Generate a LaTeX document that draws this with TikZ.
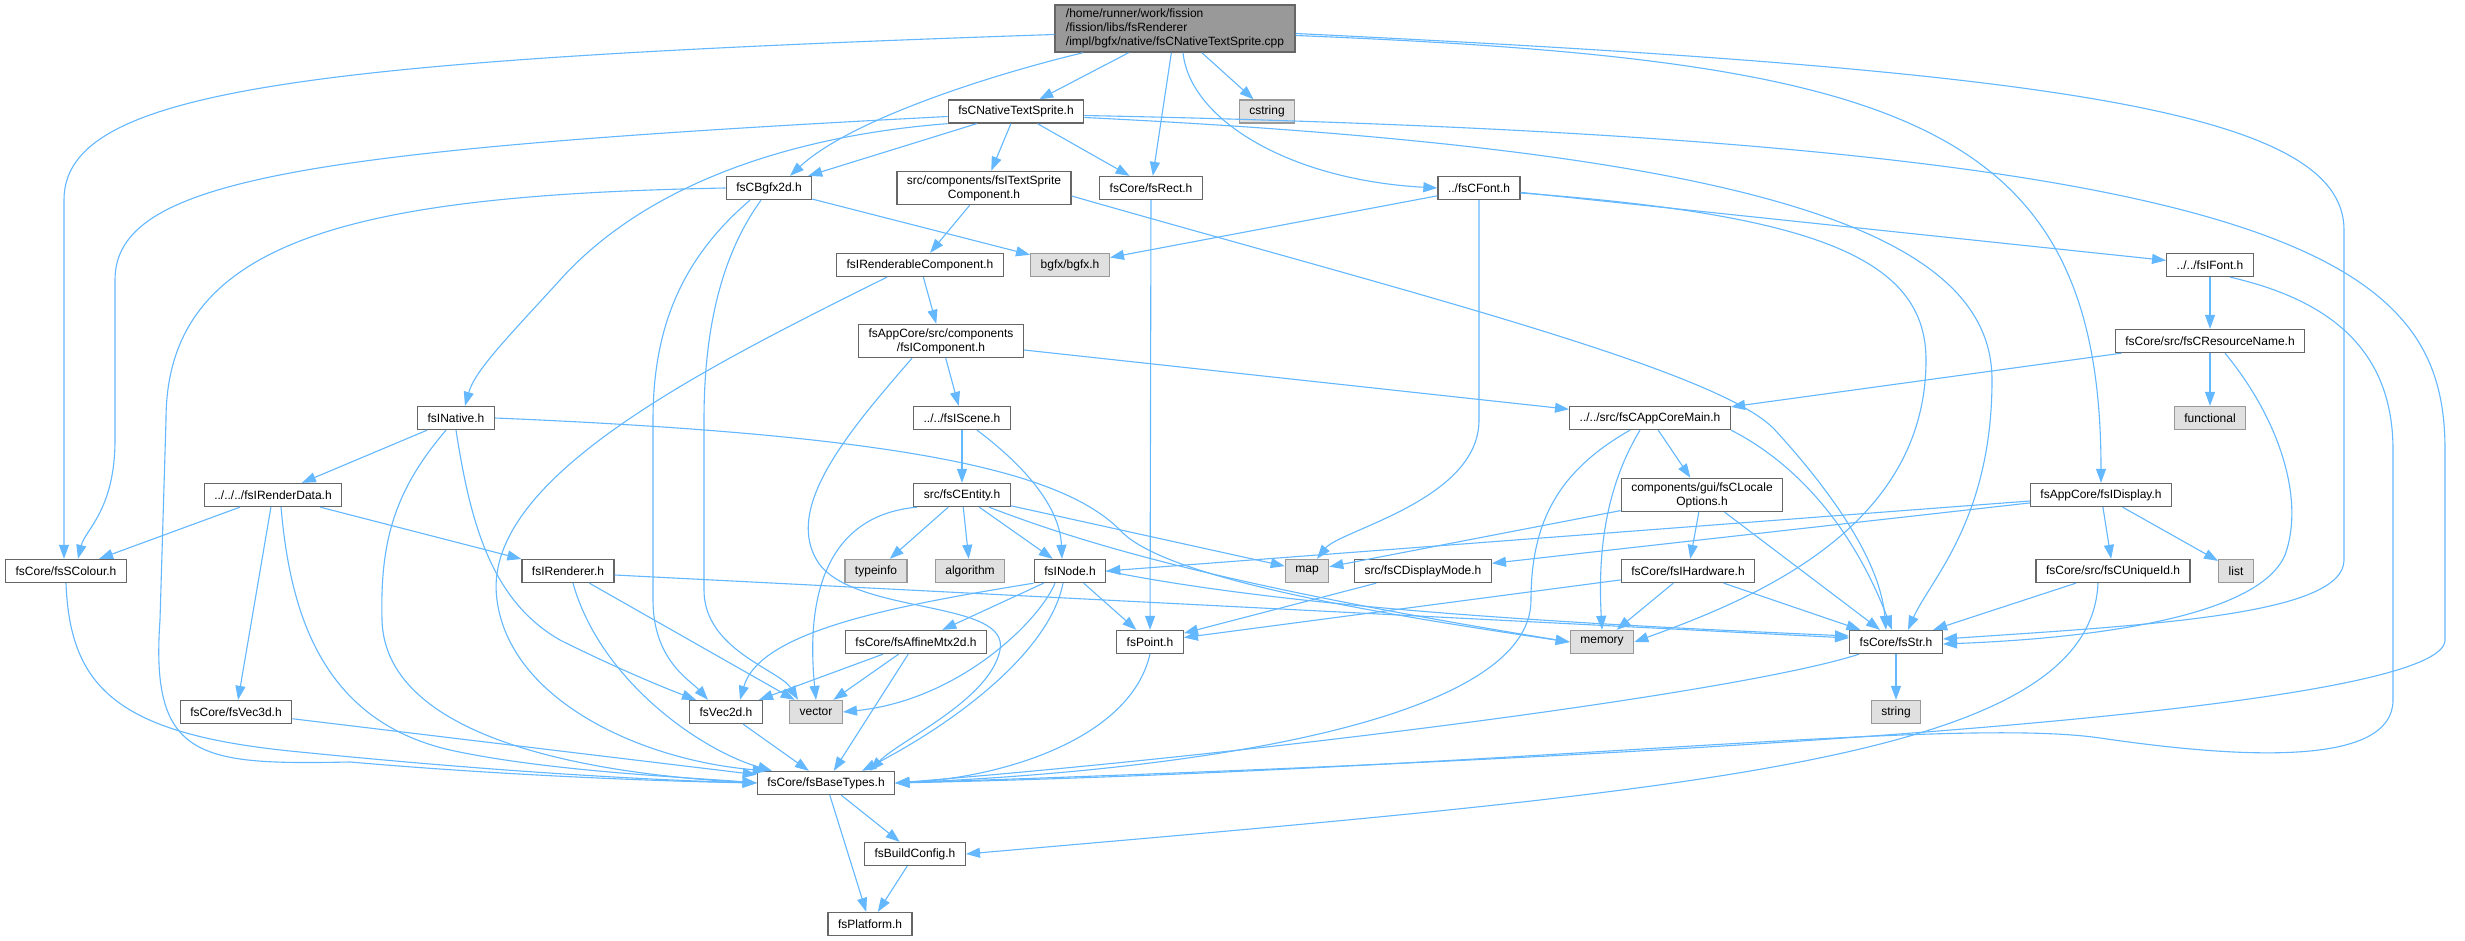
\documentclass[tikz,border=0pt]{standalone}
\usepackage{fontspec}
\setmainfont{Liberation Sans}
\usetikzlibrary{arrows.meta}
\definecolor{edgeblue}{HTML}{63B8FF}
\definecolor{nodeborder}{HTML}{666666}
\definecolor{sysfill}{HTML}{E0E0E0}
\definecolor{sysborder}{HTML}{999999}
\definecolor{rootfill}{HTML}{999999}
\begin{document}
\begin{tikzpicture}[x=1pt,y=-1pt,
  nd/.style={draw=nodeborder, fill=white, line width=1.3pt, font=\fontsize{12}{14}\selectfont, inner xsep=10pt, inner ysep=4pt, minimum height=23pt, align=center},
  sysnd/.style={nd, draw=sysborder, fill=sysfill},
  rootnd/.style={nd, fill=rootfill, align=left, inner xsep=11pt},
  dep/.style={draw=edgeblue, line width=1.1pt, -{Triangle[length=14pt,width=10pt]}}]
\useasboundingbox (0,0) rectangle (2465,941);
\fill[white] (0,0) rectangle (2465,941);

% nodes
\node[rootnd] (root) at (1175,28.5) {/home/runner/work/fission\\/fission/libs/fsRenderer\\/impl/bgfx/native/fsCNativeTextSprite.cpp};
\node[nd] (cnts) at (1016,111.5) {fsCNativeTextSprite.h};
\node[sysnd] (cstr) at (1267,111.5) {cstring};
\node[nd] (bgfx2d) at (769,188) {fsCBgfx2d.h};
\node[nd] (itsc) at (984,188) {src/components/fsITextSprite\\Component.h};
\node[nd] (rect) at (1151,188) {fsCore/fsRect.h};
\node[nd] (cfont) at (1479,188) {../fsCFont.h};
\node[nd] (irc) at (920,265) {fsIRenderableComponent.h};
\node[sysnd] (bgfxh) at (1070,265) {bgfx/bgfx.h};
\node[nd] (ifont) at (2210,265) {../../fsIFont.h};
\node[nd] (icomp) at (941,341) {fsAppCore/src/components\\/fsIComponent.h};
\node[nd] (resname) at (2210,341) {fsCore/src/fsCResourceName.h};
\node[nd] (inative) at (456,418) {fsINative.h};
\node[nd] (iscene) at (962,418) {../../fsIScene.h};
\node[nd] (appmain) at (1650,418) {../../src/fsCAppCoreMain.h};
\node[sysnd] (functional) at (2210,418) {functional};
\node[nd] (irdata) at (273,495) {../../../fsIRenderData.h};
\node[nd] (entity) at (962,495) {src/fsCEntity.h};
\node[nd] (locale) at (1702,495) {components/gui/fsCLocale\\Options.h};
\node[nd] (idisplay) at (2101,495) {fsAppCore/fsIDisplay.h};
\node[nd] (scolour) at (66,571) {fsCore/fsSColour.h};
\node[nd] (irenderer) at (568,571) {fsIRenderer.h};
\node[sysnd] (typeinfo) at (876,571) {typeinfo};
\node[sysnd] (algorithm) at (970,571) {algorithm};
\node[nd] (inode) at (1070,571) {fsINode.h};
\node[sysnd] (map) at (1307,571) {map};
\node[nd] (dispmode) at (1423,571) {src/fsCDisplayMode.h};
\node[nd] (ihw) at (1688,571) {fsCore/fsIHardware.h};
\node[nd] (uid) at (2113,571) {fsCore/src/fsCUniqueId.h};
\node[sysnd] (list) at (2236,571) {list};
\node[nd] (affine) at (916,642) {fsCore/fsAffineMtx2d.h};
\node[nd] (point) at (1150,642) {fsPoint.h};
\node[sysnd] (memory) at (1602,642) {memory};
\node[nd] (str) at (1896,642) {fsCore/fsStr.h};
\node[nd] (vec3d) at (236,712) {fsCore/fsVec3d.h};
\node[nd] (vec2d) at (726,712) {fsVec2d.h};
\node[sysnd] (vector) at (816,712) {vector};
\node[sysnd] (string) at (1896,712) {string};
\node[nd] (base) at (826,783) {fsCore/fsBaseTypes.h};
\node[nd] (buildcfg) at (915,854) {fsBuildConfig.h};
\node[nd] (platform) at (870,924) {fsPlatform.h};

% root
\draw[dep] (root) -- (cnts);
\draw[dep] (root) -- (cstr);
\draw[dep] (root) -- (rect);
\draw[dep] ([xshift=8pt]root.south) .. controls (1190,120) and (1290,180) .. (cfont.west);
\draw[dep] ([xshift=-92pt]root.south) .. controls (990,75) and (850,120) .. ([xshift=21pt]bgfx2d.north);
\draw[dep] ([yshift=-6pt]root.west) .. controls (300,60) and (64,90) .. (64,200) -- ([xshift=-2pt]scolour.north);
\draw[dep] ([yshift=-5pt]root.east) .. controls (2050,70) and (2344,110) .. (2344,230) -- (2344,560) .. controls (2344,615) and (2150,625) .. ([yshift=3pt]str.east);
\draw[dep] ([yshift=-7pt]root.east) .. controls (1900,60) and (2101,120) .. (idisplay.north);

% fsCNativeTextSprite.h
\draw[dep] (cnts) -- (bgfx2d);
\draw[dep] (cnts) -- (itsc);
\draw[dep] (cnts) -- (rect);
\draw[dep] ([yshift=-5pt]cnts.west) .. controls (300,150) and (115,180) .. (115,280) -- (115,440) .. controls (115,510) and (85,530) .. ([xshift=12pt]scolour.north);
\draw[dep] (cnts.south west) .. controls (800,135) and (650,180) .. (560,280) .. controls (510,335) and (475,370) .. ([xshift=9pt]inative.north);
\draw[dep] ([yshift=-6pt]cnts.east) .. controls (1750,150) and (1992,230) .. (1992,380) .. controls (1992,520) and (1930,580) .. ([xshift=12pt]str.north);
\draw[dep] ([yshift=-4pt]cnts.east) .. controls (2300,140) and (2445,260) .. (2445,450) -- (2445,640) .. controls (2445,700) and (1900,750) .. (base.east);

% fsCBgfx2d.h
\draw[dep] (bgfx2d) -- (bgfxh);
\draw[dep] ([xshift=-19pt]bgfx2d.south) .. controls (680,260) and (653,330) .. (653,420) -- (653,600) .. controls (653,660) and (690,680) .. ([xshift=-18pt]vec2d.north);
\draw[dep] ([xshift=-8pt]bgfx2d.south) .. controls (725,250) and (704,320) .. (704,420) -- (704,590) .. controls (704,650) and (780,670) .. ([xshift=-18pt]vector.north);
\draw[dep] (bgfx2d.west) .. controls (350,195) and (166,240) .. (166,420) -- (160,620) .. controls (150,760) and (200,765) .. (350,762) .. controls (500,775) and (650,781) .. (base.west);

% fsITextSpriteComponent
\draw[dep] (itsc) -- (irc);
\draw[dep] ([yshift=-8pt]itsc.east) .. controls (1400,290) and (1720,370) .. (1775,430) .. controls (1830,490) and (1880,560) .. ([xshift=-10pt]str.north);

% fsRect
\draw[dep] (rect) -- (point);

% fsCFont
\draw[dep] (cfont) -- (bgfxh);
\draw[dep] (cfont) -- (ifont);
\draw[dep] (cfont.south) -- (1479,420) .. controls (1479,500) and (1340,530) .. ([xshift=10pt]map.north);
\draw[dep] ([yshift=-5pt]cfont.east) .. controls (1820,215) and (1926,260) .. (1926,360) .. controls (1926,530) and (1750,600) .. (memory.east);

% fsIRenderableComponent
\draw[dep] (irc) -- (icomp);
\draw[dep] ([xshift=-33pt]irc.south) .. controls (700,370) and (480,480) .. (497,600) .. controls (510,700) and (640,760) .. ([xshift=10pt]base.north west);

% fsIFont
\draw[dep] (ifont) -- (resname);
\draw[dep] ([xshift=20pt]ifont.south) .. controls (2330,300) and (2393,350) .. (2393,450) -- (2393,700) .. controls (2393,765) and (2250,760) .. (2100,738) .. controls (1950,716) and (1500,770) .. (base.east);

% fsIComponent
\draw[dep] (icomp) -- (iscene);
\draw[dep] (icomp) -- (appmain);
\draw[dep] ([xshift=-29pt]icomp.south) .. controls (850,430) and (780,510) .. (820,565) .. controls (860,615) and (1010,600) .. (1000,650) .. controls (990,700) and (900,740) .. ([xshift=44pt]base.north);

% fsCResourceName
\draw[dep] (resname) -- (appmain);
\draw[dep] (resname) -- (functional);
\draw[dep] ([xshift=15pt]resname.south) .. controls (2280,420) and (2305,500) .. (2285,555) .. controls (2255,625) and (2050,640) .. ([yshift=-2pt]str.east);

% fsINative
\draw[dep] (inative) -- (irdata);
\draw[dep] (inative.south) .. controls (470,520) and (490,600) .. (560,640) .. controls (620,670) and (670,690) .. ([xshift=-30pt]vec2d.north);
\draw[dep] ([xshift=-10pt]inative.south) .. controls (395,490) and (380,540) .. (382,620) .. controls (385,730) and (560,772) .. (base.west);
\draw[dep] (inative.east) .. controls (900,435) and (1060,470) .. (1120,530) .. controls (1160,575) and (1350,610) .. (memory.west);

% fsIScene
\draw[dep] (iscene) -- (entity);
\draw[dep] ([xshift=15pt]iscene.south) .. controls (1030,470) and (1060,510) .. ([xshift=-8pt]inode.north);

% fsCAppCoreMain
\draw[dep] (appmain) -- (locale);
\draw[dep] ([xshift=-10pt]appmain.south) .. controls (1610,480) and (1597,540) .. (memory.north);
\draw[dep] ([xshift=-20pt]appmain.south) .. controls (1560,470) and (1531,520) .. (1531,600) .. controls (1531,720) and (1200,770) .. (base.east);
\draw[dep] (appmain.south east) .. controls (1790,460) and (1850,520) .. ([xshift=-4pt]str.north);

% fsIRenderData
\draw[dep] (irdata) -- (scolour);
\draw[dep] (irdata) -- (irenderer);
\draw[dep] (irdata) -- (vec3d);
\draw[dep] ([xshift=8pt]irdata.south) .. controls (290,610) and (320,720) .. (450,750) .. controls (550,772) and (700,778) .. (base.west);

% fsCEntity
\draw[dep] (entity) -- (typeinfo);
\draw[dep] (entity) -- (algorithm);
\draw[dep] (entity) -- (inode);
\draw[dep] (entity) -- (map);
\draw[dep] ([xshift=27pt]entity.south) .. controls (1100,550) and (1250,590) .. (memory.west);
\draw[dep] ([xshift=-45pt]entity.south) .. controls (830,515) and (805,590) .. (vector.north);

% fsCLocaleOptions
\draw[dep] (locale) -- (map);
\draw[dep] (locale) -- (ihw);
\draw[dep] (locale) -- (str);

% fsIDisplay
\draw[dep] ([yshift=-6pt]idisplay.west) -- (inode.east);
\draw[dep] (idisplay) -- (dispmode);
\draw[dep] (idisplay) -- (uid);
\draw[dep] (idisplay) -- (list);

% fsSColour
\draw[dep] (scolour.south) .. controls (70,690) and (120,735) .. (300,752) .. controls (500,772) and (650,780) .. (base.west);

% fsIRenderer
\draw[dep] (irenderer) -- (vector);
\draw[dep] ([xshift=5pt]irenderer.south) .. controls (600,680) and (700,750) .. ([xshift=-54pt]base.north);
\draw[dep] ([yshift=-4pt]irenderer.east) -- ([yshift=4pt]str.west);

% fsINode
\draw[dep] (inode) -- (affine);
\draw[dep] (inode) -- (point);
\draw[dep] (inode.south west) .. controls (900,605) and (760,630) .. ([xshift=14pt]vec2d.north);
\draw[dep] ([xshift=-15pt]inode.south) .. controls (1040,620) and (960,700) .. (vector.east);
\draw[dep] ([xshift=-7pt]inode.south) .. controls (1050,650) and (960,720) .. ([xshift=36pt]base.north);
\draw[dep] (inode.east) .. controls (1300,610) and (1600,625) .. ([yshift=6pt]str.west);

% fsAffineMtx2d
\draw[dep] (affine) -- (vec2d);
\draw[dep] (affine) -- (vector);
\draw[dep] (affine) -- (base);

% fsPoint
\draw[dep] (point.south) .. controls (1130,740) and (1000,778) .. (base.east);

% fsCDisplayMode, fsIHardware
\draw[dep] (dispmode) -- (point);
\draw[dep] (ihw) -- (point);
\draw[dep] (ihw) -- (memory);
\draw[dep] (ihw) -- (str);

% fsCUniqueId
\draw[dep] (uid) -- (str);
\draw[dep] ([xshift=-15pt]uid.south) .. controls (2090,760) and (1700,790) .. (buildcfg.east);

% fsStr
\draw[dep] (str) -- (string);
\draw[dep] ([xshift=-37pt]str.south) .. controls (1750,690) and (1300,750) .. (base.east);

% vectors
\draw[dep] (vec3d) -- (base);
\draw[dep] (vec2d) -- (base);

% base
\draw[dep] (base) -- (buildcfg);
\draw[dep] (base) -- (platform);
\draw[dep] (buildcfg) -- (platform);
\end{tikzpicture}
\end{document}
